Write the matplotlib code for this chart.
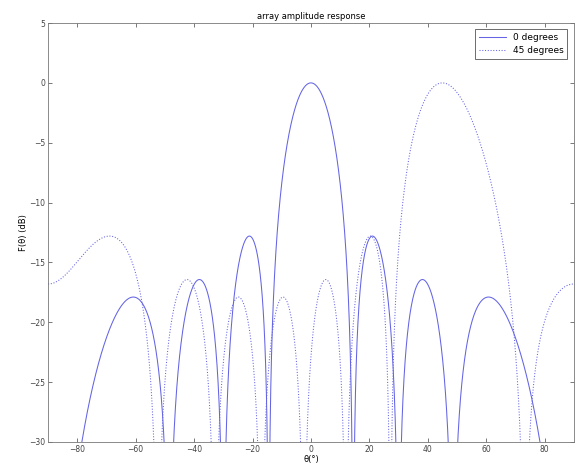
import numpy as np
import matplotlib
matplotlib.use("Agg")
from matplotlib import pyplot as plt

# uniform linear array, half-wavelength spacing, steered to two directions
n_elements = 8
spacing = 0.5          # in wavelengths
steer_deg = [0, 45]
labels = ['0 degrees', '45 degrees']
styles = ['-', ':']

theta = np.linspace(-90, 90, 3601)


def array_factor_db(th, th0):
    psi = 2 * np.pi * spacing * (np.sin(np.radians(th)) - np.sin(np.radians(th0)))
    num = np.sin(n_elements * psi / 2)
    den = n_elements * np.sin(psi / 2)
    with np.errstate(divide='ignore', invalid='ignore'):
        af = np.where(np.abs(den) < 1e-12, 1.0, num / den)
        return 20 * np.log10(np.abs(af))


fig = plt.figure(figsize=(5.79, 4.75), dpi=100)
ax = fig.add_axes([0.083, 0.0695, 0.908, 0.882])

for th0, lab, ls in zip(steer_deg, labels, styles):
    ax.plot(theta, array_factor_db(theta, th0), ls, color='#6464e4', lw=0.75, label=lab)

ax.set_xlim(-90, 90)
ax.set_ylim(-30, 5)
ax.set_xticks(np.arange(-80, 81, 20))
ax.set_yticks(np.arange(-30, 6, 5))
ax.tick_params(direction='in', top=True, right=True, labelsize=5.5, length=3,
               width=0.5, colors='#444444', pad=2)
for s in ax.spines.values():
    s.set_linewidth(0.6)
    s.set_color('#777777')

ax.set_title('array amplitude response', fontsize=6, pad=3)
ax.set_xlabel('θ(°)', fontsize=6, labelpad=1)
ax.set_ylabel('F(θ) (dB)', fontsize=6, labelpad=1)

leg = ax.legend(loc='upper right', fontsize=6.5, fancybox=False, framealpha=1,
                edgecolor='#555555', handlelength=3, borderaxespad=0.7)
leg.get_frame().set_linewidth(0.6)

fig.savefig('out.png', dpi=100)
